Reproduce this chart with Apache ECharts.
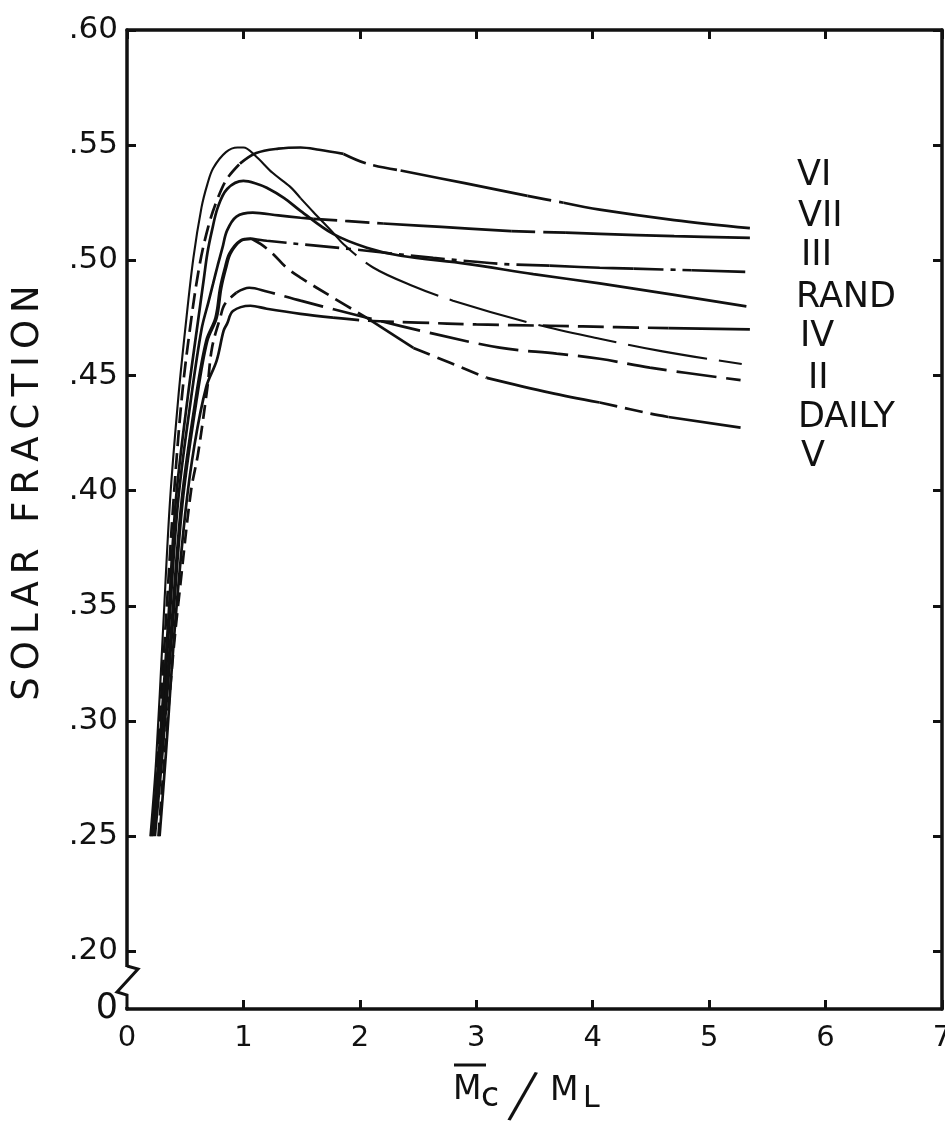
<!DOCTYPE html>
<html><head><meta charset="utf-8">
<script src="https://cdn.jsdelivr.net/npm/echarts@6/dist/echarts.min.js"></script>
<style>html,body{margin:0;padding:0;background:#fff}#c{width:945px;height:1126px}</style>
</head><body><div id="c"></div>
<script>
// ---------- data ----------
const xTickValues = [0, 1, 2, 3, 4, 5, 6, 7];
const yTickValues = [0.20, 0.25, 0.30, 0.35, 0.40, 0.45, 0.50, 0.55, 0.60];
const yLabelValues = [0.175, 0.20, 0.25, 0.30, 0.35, 0.40, 0.45, 0.50, 0.55, 0.60];
const yLabelTexts = ['0', '.20', '.25', '.30', '.35', '.40', '.45', '.50', '.55', '.60'];
const curveNames = ['VI', 'VII', 'III', 'RAND', 'IV', 'II', 'DAILY', 'V'];
const xTitle = ['M', 'c', '/', 'M', 'L'];
const yTitle = 'SOLAR FRACTION';

const viX = [0.21,0.26,0.33,0.40,0.47,0.54,0.62,0.70,0.78,0.86,0.97,1.11,1.30,1.49,1.65,1.86,2.06,2.35,2.90,3.44,3.75,4.06,4.70,5.35];
const viY = [0.250,0.283,0.340,0.396,0.440,0.470,0.497,0.515,0.527,0.5355,0.542,0.5466,0.5485,0.549,0.548,0.5462,0.542,0.539,0.5335,0.528,0.525,0.522,0.5175,0.514];

const viiX = [0.22,0.28,0.36,0.44,0.55,0.64,0.70,0.74,0.78,0.82,0.86,0.94,1.08,1.30,1.49,1.60,2.20,2.70,3.30,3.77,4.06,4.70,5.35];
const viiY = [0.250,0.283,0.340,0.396,0.440,0.470,0.482,0.490,0.498,0.5055,0.513,0.519,0.5207,0.5195,0.5185,0.518,0.516,0.5145,0.5127,0.512,0.5115,0.5105,0.5098];

const iiiX = [0.24,0.30,0.39,0.48,0.60,0.69,0.77,0.81,0.85,0.89,0.98,1.08,1.20,1.60,2.00,2.63,3.20,3.63,4.06,4.35,4.85,5.31];
const iiiY = [0.250,0.283,0.340,0.396,0.440,0.465,0.475,0.488,0.4965,0.503,0.5085,0.5094,0.5085,0.5065,0.5045,0.5011,0.4985,0.4977,0.4968,0.4964,0.4957,0.495];

const randX = [0.21,0.27,0.35,0.42,0.52,0.60,0.66,0.69,0.73,0.78,0.86,1.00,1.10,1.20,1.35,1.49,1.77,2.06,2.35,2.92,3.49,4.06,4.70,5.32];
const randY = [0.250,0.283,0.340,0.396,0.440,0.470,0.492,0.503,0.513,0.523,0.531,0.5345,0.5335,0.5315,0.527,0.5215,0.5115,0.5055,0.502,0.4985,0.494,0.490,0.485,0.480];

const ivX = [0.28,0.33,0.41,0.50,0.58,0.68,0.77,0.83,0.86,0.91,1.06,1.20,1.49,1.77,2.06,2.50,3.00,3.63,4.20,4.65,5.35];
const ivY = [0.250,0.283,0.340,0.390,0.420,0.445,0.4565,0.4695,0.4725,0.478,0.4803,0.479,0.4768,0.4751,0.4738,0.473,0.4722,0.4716,0.471,0.4706,0.470];

const iiX = [0.20,0.25,0.31,0.37,0.44,0.50,0.57,0.64,0.69,0.74,0.85,0.95,1.00,1.10,1.25,1.40,1.49,1.60,1.77,1.86,2.11,2.45,2.80,3.49,4.06,4.60,5.28];
const iiY = [0.250,0.283,0.340,0.396,0.440,0.470,0.501,0.523,0.533,0.540,0.547,0.549,0.549,0.5455,0.538,0.532,0.527,0.521,0.512,0.507,0.497,0.489,0.4825,0.4725,0.466,0.4605,0.455];

const dailyX = [0.27,0.32,0.40,0.46,0.55,0.61,0.69,0.73,0.80,0.84,0.94,1.05,1.20,1.49,2.06,2.63,3.20,3.69,4.06,4.49,5.27];
const dailyY = [0.250,0.283,0.331,0.360,0.400,0.416,0.4447,0.462,0.475,0.481,0.486,0.4881,0.4865,0.4825,0.4751,0.4682,0.4621,0.4595,0.4573,0.4534,0.448];

const vX = [0.23,0.29,0.38,0.47,0.59,0.68,0.76,0.80,0.84,0.88,0.97,1.07,1.15,1.25,1.37,1.49,1.77,2.06,2.46,3.09,3.63,4.06,4.49,4.65,5.27];
const vY = [0.250,0.283,0.340,0.396,0.440,0.465,0.475,0.488,0.4965,0.503,0.5085,0.5094,0.507,0.503,0.4968,0.4925,0.4838,0.475,0.462,0.449,0.4426,0.4383,0.4335,0.432,0.4274];

// ---------- styles ----------
const FONT = '"DejaVu Sans", sans-serif';
const INK = '#111';
const curves = [
  { x: viX,    y: viY,    w: 2.7, segs: [[0.97, [16, 7]], [1.86, 'solid'], [2.35, [24, 8]], [3.44, 'solid'], [3.75, [24, 8]], [99, 'solid']] },
  { x: viiX,   y: viiY,   w: 2.7, segs: [[1.60, 'solid'], [2.20, [24, 8]], [3.30, 'solid'], [3.77, [24, 8]], [99, 'solid']] },
  { x: iiiX,   y: iiiY,   w: 2.6, segs: [[1.08, 'solid'], [3.63, [34, 7, 5, 7]], [4.35, 'solid'], [4.85, [30, 7, 5, 7]], [99, 'solid']] },
  { x: randX,  y: randY,  w: 2.7, segs: [[99, 'solid']] },
  { x: ivX,    y: ivY,    w: 2.7, segs: [[1.77, 'solid'], [4.65, [26, 9]], [99, 'solid']] },
  { x: iiX,    y: iiY,    w: 2.1, segs: [[1.49, 'solid'], [99, [80, 12]]] },
  { x: dailyX, y: dailyY, w: 2.7, segs: [[0.94, [14, 7]], [99, [40, 10]]] },
  { x: vX,     y: vY,     w: 2.7, segs: [[1.07, 'solid'], [2.06, [18, 8]], [2.46, 'solid'], [3.09, [18, 8]], [4.06, 'solid'], [4.65, [18, 8]], [99, 'solid']] }
];

function splitCurve(c) {
  const out = [];
  let start = 0;
  const n = c.x.length;
  for (const [bound, type] of c.segs) {
    let end = n - 1;
    if (bound < c.x[n - 1]) {
      let best = start, bd = Infinity;
      for (let i = start; i < n; i++) {
        const d = Math.abs(c.x[i] - bound);
        if (d < bd) { bd = d; best = i; }
      }
      end = best;
    }
    if (end > start) {
      const pts = [];
      for (let i = start; i <= end; i++) pts.push([c.x[i], c.y[i]]);
      out.push({ type, pts });
    }
    start = end;
    if (start >= n - 1) break;
  }
  return out;
}

const series = [];
curves.forEach((c, ci) => {
  splitCurve(c).forEach((s, si) => {
    series.push({
      type: 'line', name: curveNames[ci] + '_' + si, data: s.pts,
      xAxisIndex: 0, yAxisIndex: 0,
      showSymbol: false, smooth: 0.35, silent: true, animation: false,
      lineStyle: { color: INK, width: c.w, type: s.type, cap: 'butt' }
    });
  });
});

const chart = echarts.init(document.getElementById('c'), null, { renderer: 'canvas' });
const axisLine = { show: true, onZero: false, lineStyle: { color: INK, width: 3.5 } };
const tickStyle = { show: true, inside: true, length: 9, lineStyle: { color: INK, width: 3 } };

function yFmt(v) {
  for (let i = 0; i < yLabelValues.length; i++) {
    if (Math.abs(v - yLabelValues[i]) < 1e-6) return i === 0 ? '{z|' + yLabelTexts[i] + '}' : yLabelTexts[i];
  }
  return '';
}

chart.setOption({
  backgroundColor: '#fff',
  animation: false,
  grid: { left: 127, right: 3, top: 30, bottom: 117, containLabel: false, outerBoundsMode: 'none' },
  xAxis: [
    { type: 'value', position: 'bottom', min: 0, max: 7, interval: 1,
      axisLine, axisTick: tickStyle, splitLine: { show: false },
      axisLabel: { show: true, margin: 15, color: INK, fontFamily: FONT, fontSize: 29,
        customValues: xTickValues, formatter: v => String(Math.round(v)) } },
    { type: 'value', position: 'top', min: 0, max: 7, interval: 1,
      axisLine, axisTick: tickStyle, splitLine: { show: false }, axisLabel: { show: false } }
  ],
  yAxis: [
    { type: 'value', position: 'left', min: 0.175, max: 0.6, interval: 0.025,
      axisLine, splitLine: { show: false },
      axisTick: Object.assign({}, tickStyle, { customValues: yTickValues }),
      axisLabel: { show: true, margin: 9, color: INK, fontFamily: FONT, fontSize: 31,
        customValues: yLabelValues, formatter: yFmt,
        rich: { z: { fontFamily: FONT, fontSize: 35, color: INK } } } },
    { type: 'value', position: 'right', min: 0.175, max: 0.6, interval: 0.025,
      axisLine, splitLine: { show: false },
      axisTick: Object.assign({}, tickStyle, { customValues: yTickValues }),
      axisLabel: { show: false } }
  ],
  series
});

// ---------- decorations: axis break, titles, curve labels ----------
const p0 = chart.convertToPixel({ gridIndex: 0 }, [0, 0.175]);
const x0 = p0[0], yb = p0[1];
const graphics = [
  { type: 'rect', z: 100, shape: { x: x0 - 5, y: yb - 42, width: 10, height: 40 }, style: { fill: '#fff' } },
  { type: 'polyline', z: 101, shape: { points: [[x0, yb - 43], [x0 + 11, yb - 40], [x0 - 10, yb - 17], [x0, yb - 14], [x0, yb - 1]] },
    style: { stroke: INK, lineWidth: 3, fill: null } }
];

// y title with letter spacing
const yRich = yTitle.split('').map(ch => '{l|' + (ch === ' ' ? '\u00a0' : ch) + '}').join('');
graphics.push({
  type: 'text', z: 100, x: 28, y: 493, rotation: Math.PI / 2,
  style: { text: yRich, align: 'center', verticalAlign: 'middle', fill: INK,
    rich: { l: { fontFamily: FONT, fontSize: 37, padding: [0, 3.5], fill: INK, color: INK } } }
});

// x title  Mc / ML with overline on Mc
graphics.push(
  { type: 'text', z: 100, x: 453, y: 1090, style: { text: xTitle[0], fontFamily: FONT, fontSize: 33, fill: INK, verticalAlign: 'middle' } },
  { type: 'text', z: 100, x: 481, y: 1097, style: { text: xTitle[1], fontFamily: FONT, fontSize: 33, fill: INK, verticalAlign: 'middle' } },
  { type: 'line', z: 100, shape: { x1: 454, y1: 1065, x2: 486, y2: 1065 }, style: { stroke: INK, lineWidth: 3 } },
  { type: 'text', z: 100, x: 522, y: 1100, rotation: -0.22, style: { text: xTitle[2], fontFamily: FONT, fontSize: 64, fontWeight: 'lighter', fill: INK, align: 'center', verticalAlign: 'middle' } },
  { type: 'text', z: 100, x: 550, y: 1091, style: { text: xTitle[3], fontFamily: FONT, fontSize: 33, fill: INK, verticalAlign: 'middle' } },
  { type: 'text', z: 100, x: 583, y: 1099, style: { text: xTitle[4], fontFamily: FONT, fontSize: 30, fill: INK, verticalAlign: 'middle' } }
);

// curve labels on the right
const labelLeft = [797, 798, 801, 796, 800, 808, 798, 801];
const labelMid = [176, 217, 256, 298, 337, 379, 418, 457];
curveNames.forEach((nm, i) => {
  graphics.push({ type: 'text', z: 100, x: labelLeft[i], y: labelMid[i],
    style: { text: nm, fontFamily: FONT, fontSize: 35, fill: INK, verticalAlign: 'middle' } });
});

chart.setOption({ graphic: graphics });
</script></body></html>
